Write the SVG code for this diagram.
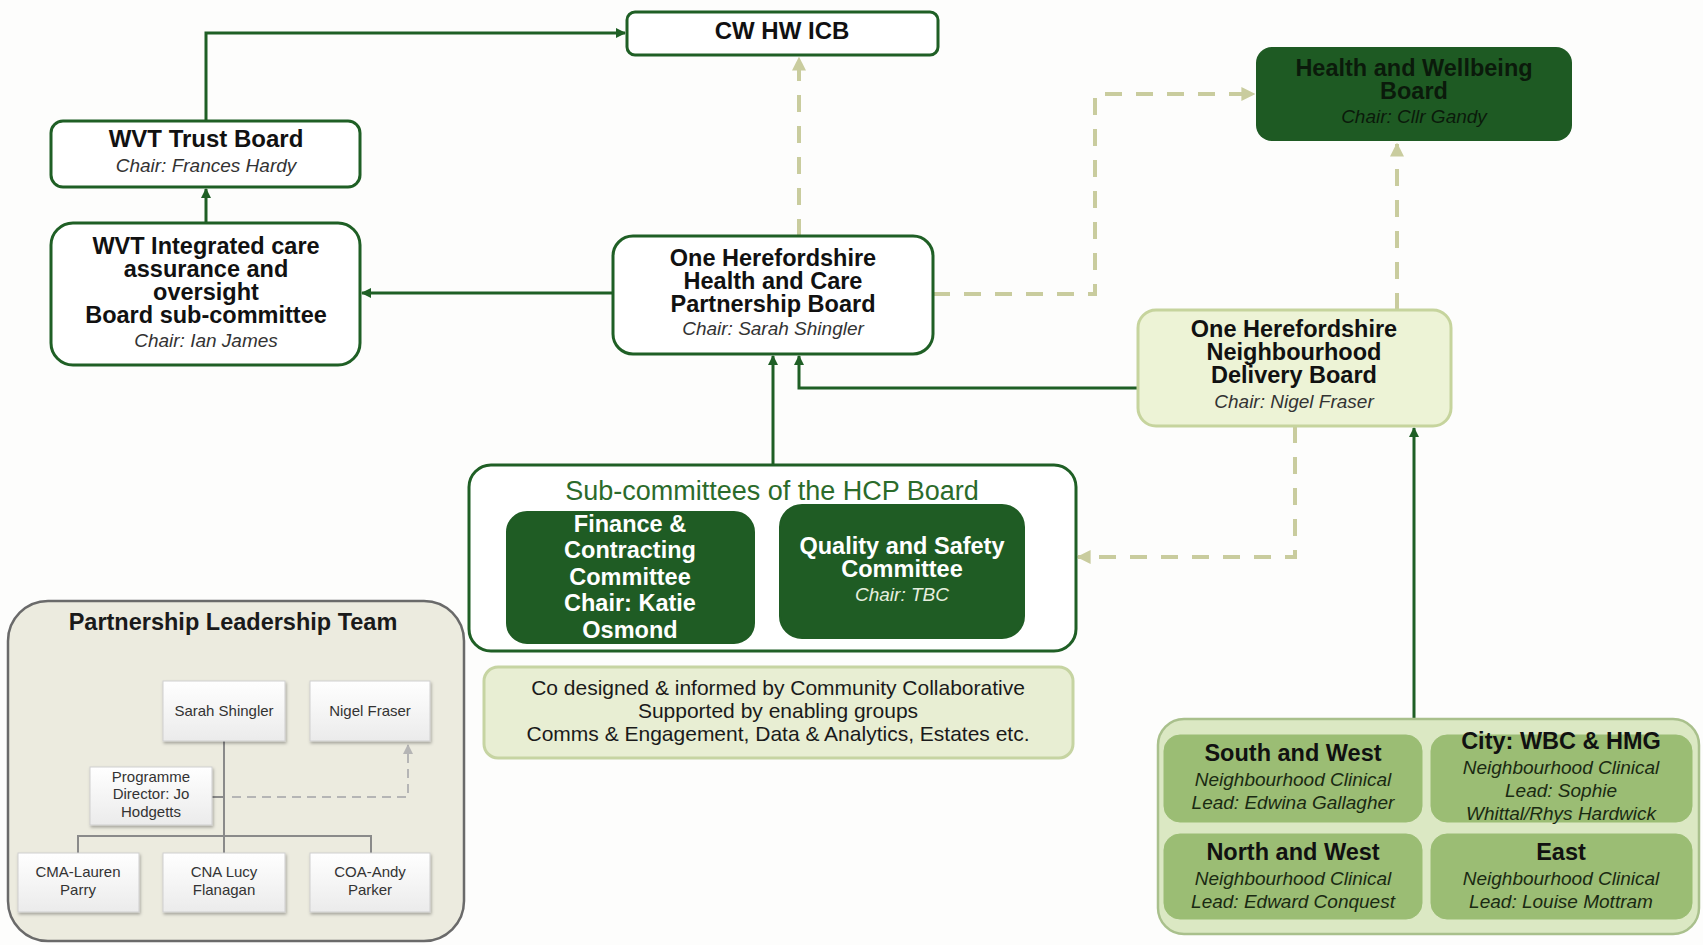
<svg xmlns="http://www.w3.org/2000/svg" width="1703" height="945" viewBox="0 0 1703 945">
<defs>
<style>
.t{font-family:"Liberation Sans",Arial,Helvetica,sans-serif;text-anchor:middle}
.b{font-weight:bold;font-size:23.5px;fill:#111}
.i{font-style:italic;font-size:19px;fill:#333}
.wbox{fill:#fff;stroke:#1f5f25;stroke-width:3}
.dk{fill:#1f5c24;stroke:#1f5c24;stroke-width:2}
.conn{stroke:#1f5f25;stroke-width:3;fill:none}
.dash{stroke:#c9cc9e;stroke-width:4;stroke-dasharray:17 14;fill:none}
.pbox{fill:url(#pg);stroke:#cfcfcf;stroke-width:1;filter:url(#sh)}
.pt{font-family:"Liberation Sans",Arial,sans-serif;text-anchor:middle;font-size:15px;fill:#333}
.nb{fill:#9bbd74;stroke:#9bbd74;stroke-width:1}
.ni{font-style:italic;font-size:19px;fill:#1a2a12}
</style>
<linearGradient id="pg" x1="0" y1="0" x2="0" y2="1"><stop offset="0" stop-color="#ffffff"/><stop offset="1" stop-color="#ebebeb"/></linearGradient>
<filter id="sh" x="-10%" y="-10%" width="130%" height="130%"><feDropShadow dx="1" dy="2" stdDeviation="1.5" flood-color="#000" flood-opacity="0.3"/></filter>
<marker id="ag" viewBox="0 0 10 10" refX="9" refY="5" markerWidth="10" markerHeight="10" markerUnits="userSpaceOnUse" orient="auto"><path d="M0,0 L10,5 L0,10 z" fill="#1f5f25"/></marker>
<marker id="ao" viewBox="0 0 10 10" refX="9" refY="5" markerWidth="14" markerHeight="14" markerUnits="userSpaceOnUse" orient="auto"><path d="M0,0 L10,5 L0,10 z" fill="#c9cc9e"/></marker>
<marker id="ay" viewBox="0 0 10 10" refX="9" refY="5" markerWidth="10" markerHeight="10" markerUnits="userSpaceOnUse" orient="auto"><path d="M0,0 L10,5 L0,10 z" fill="#b5b5b5"/></marker>
</defs>
<rect width="1703" height="945" fill="#fdfdfc"/>

<g id="connectors">
<path class="conn" d="M206,121 V33 H625" marker-end="url(#ag)"/>
<path class="conn" d="M206,223 V189" marker-end="url(#ag)"/>
<path class="conn" d="M613,293 H362" marker-end="url(#ag)"/>
<path class="dash" d="M799,236 V58" marker-end="url(#ao)"/>
<path class="dash" d="M933,294 H1095 V94 H1254" marker-end="url(#ao)"/>
<path class="dash" d="M1397,310 V144" marker-end="url(#ao)"/>
<path class="conn" d="M1138,388 H799 V356" marker-end="url(#ag)"/>
<path class="conn" d="M773,465 V356" marker-end="url(#ag)"/>
<path class="dash" d="M1295,426 V557 H1078" marker-end="url(#ao)"/>
<path class="conn" d="M1414,719 V428" marker-end="url(#ag)"/>
</g>

<g id="icb">
<rect class="wbox" x="627" y="12" width="311" height="43" rx="8"/>
<text class="t b" x="782" y="39" style="font-size:24px">CW HW ICB</text>
</g>

<g id="trust-board">
<rect class="wbox" x="51" y="121" width="309" height="66" rx="12"/>
<text class="t b" x="206" y="147" style="font-size:24px">WVT Trust Board</text>
<text class="t i" x="206" y="172">Chair: Frances Hardy</text>
</g>

<g id="integrated-care">
<rect class="wbox" x="51" y="223" width="309" height="142" rx="22"/>
<text class="t b" x="206" y="254">WVT Integrated care</text>
<text class="t b" x="206" y="277">assurance and</text>
<text class="t b" x="206" y="300">oversight</text>
<text class="t b" x="206" y="323">Board sub-committee</text>
<text class="t i" x="206" y="347">Chair: Ian James</text>
</g>

<g id="hcp-board">
<rect class="wbox" x="613" y="236" width="320" height="118" rx="20"/>
<text class="t b" x="773" y="266">One Herefordshire</text>
<text class="t b" x="773" y="289">Health and Care</text>
<text class="t b" x="773" y="312">Partnership Board</text>
<text class="t i" x="773" y="335">Chair: Sarah Shingler</text>
</g>

<g id="hwb">
<rect x="1256" y="47" width="316" height="94" rx="16" fill="#1e5a23"/>
<text class="t b" x="1414" y="76" style="fill:#0b1a0b">Health and Wellbeing</text>
<text class="t b" x="1414" y="99" style="fill:#0b1a0b">Board</text>
<text class="t i" x="1414" y="123" style="fill:#0b1a0b">Chair: Cllr Gandy</text>
</g>

<g id="ndb">
<rect x="1138" y="310" width="313" height="116" rx="18" fill="#edf3d6" stroke="#c6d49d" stroke-width="3"/>
<text class="t b" x="1294" y="337">One Herefordshire</text>
<text class="t b" x="1294" y="360">Neighbourhood</text>
<text class="t b" x="1294" y="383">Delivery Board</text>
<text class="t i" x="1294" y="408">Chair: Nigel Fraser</text>
</g>

<g id="sub-committees">
<rect x="469" y="465" width="607" height="186" rx="22" fill="#fff" stroke="#1f5f25" stroke-width="3"/>
<text class="t" x="772" y="500" style="font-size:27px;fill:#2b6b2b">Sub-committees of the HCP Board</text>
</g>

<g id="finance">
<rect class="dk" x="507" y="512" width="247" height="131" rx="20"/>
<text class="t b" x="630" y="532" style="fill:#fff">Finance &amp;</text>
<text class="t b" x="630" y="558" style="fill:#fff">Contracting</text>
<text class="t b" x="630" y="585" style="fill:#fff">Committee</text>
<text class="t b" x="630" y="611" style="fill:#fff">Chair: Katie</text>
<text class="t b" x="630" y="638" style="fill:#fff">Osmond</text>
</g>

<g id="quality">
<rect class="dk" x="780" y="505" width="244" height="133" rx="22"/>
<text class="t b" x="902" y="554" style="fill:#fff">Quality and Safety</text>
<text class="t b" x="902" y="577" style="fill:#fff">Committee</text>
<text class="t i" x="902" y="601" style="fill:#e6eedf">Chair: TBC</text>
</g>

<g id="co-designed">
<rect x="484" y="667" width="589" height="91" rx="14" fill="#e8eed3" stroke="#c6d4a2" stroke-width="3"/>
<text class="t" x="778" y="695" style="font-size:21px;fill:#1a1a1a">Co designed &amp; informed by Community Collaborative</text>
<text class="t" x="778" y="718" style="font-size:21px;fill:#1a1a1a">Supported by enabling groups</text>
<text class="t" x="778" y="741" style="font-size:21px;fill:#1a1a1a">Comms &amp; Engagement, Data &amp; Analytics, Estates etc.</text>
</g>

<g id="plt">
<rect x="8" y="601" width="456" height="340" rx="40" fill="#ecebdf" stroke="#6a6a6a" stroke-width="2.5"/>
<text class="t" x="233" y="630" style="font-size:23.5px;font-weight:bold;fill:#1a1a1a">Partnership Leadership Team</text>
<g id="plt-lines" fill="none">
<path d="M224,741 V853 M78,853 V836 H371 V853 M212,797 H224" stroke="#8a8a8a" stroke-width="2"/>
<path d="M232,797 H408 V745" stroke="#b5b5b5" stroke-width="2" stroke-dasharray="9 6" marker-end="url(#ay)"/>
</g>
<g id="plt-sarah"><rect class="pbox" x="163" y="681" width="122" height="60"/><text class="pt" x="224" y="716">Sarah Shingler</text></g>
<g id="plt-nigel"><rect class="pbox" x="310" y="681" width="120" height="60"/><text class="pt" x="370" y="716">Nigel Fraser</text></g>
<g id="plt-jo"><rect class="pbox" x="90" y="767" width="122" height="58"/><text class="pt" x="151" y="782">Programme</text><text class="pt" x="151" y="799">Director: Jo</text><text class="pt" x="151" y="817">Hodgetts</text></g>
<g id="plt-cma"><rect class="pbox" x="18" y="853" width="121" height="59"/><text class="pt" x="78" y="877">CMA-Lauren</text><text class="pt" x="78" y="895">Parry</text></g>
<g id="plt-cna"><rect class="pbox" x="163" y="853" width="122" height="59"/><text class="pt" x="224" y="877">CNA Lucy</text><text class="pt" x="224" y="895">Flanagan</text></g>
<g id="plt-coa"><rect class="pbox" x="310" y="853" width="120" height="59"/><text class="pt" x="370" y="877">COA-Andy</text><text class="pt" x="370" y="895">Parker</text></g>
</g>

<g id="neighbourhoods">
<rect x="1158" y="719" width="541" height="215" rx="26" fill="#dbe8c3" stroke="#a9c08c" stroke-width="2.5"/>
<g id="south-west"><rect class="nb" x="1164" y="735" width="258" height="87" rx="16"/>
<text class="t b" x="1293" y="761">South and West</text>
<text class="t ni" x="1293" y="786">Neighbourhood Clinical</text>
<text class="t ni" x="1293" y="809">Lead: Edwina Gallagher</text></g>
<g id="city"><rect class="nb" x="1431" y="735" width="261" height="87" rx="16"/>
<text class="t b" x="1561" y="749">City: WBC &amp; HMG</text>
<text class="t ni" x="1561" y="774">Neighbourhood Clinical</text>
<text class="t ni" x="1561" y="797">Lead: Sophie</text>
<text class="t ni" x="1561" y="820">Whittal/Rhys Hardwick</text></g>
<g id="north-west"><rect class="nb" x="1164" y="834" width="258" height="85" rx="16"/>
<text class="t b" x="1293" y="860">North and West</text>
<text class="t ni" x="1293" y="885">Neighbourhood Clinical</text>
<text class="t ni" x="1293" y="908">Lead: Edward Conquest</text></g>
<g id="east"><rect class="nb" x="1431" y="834" width="261" height="85" rx="16"/>
<text class="t b" x="1561" y="860">East</text>
<text class="t ni" x="1561" y="885">Neighbourhood Clinical</text>
<text class="t ni" x="1561" y="908">Lead: Louise Mottram</text></g>
</g>
</svg>
